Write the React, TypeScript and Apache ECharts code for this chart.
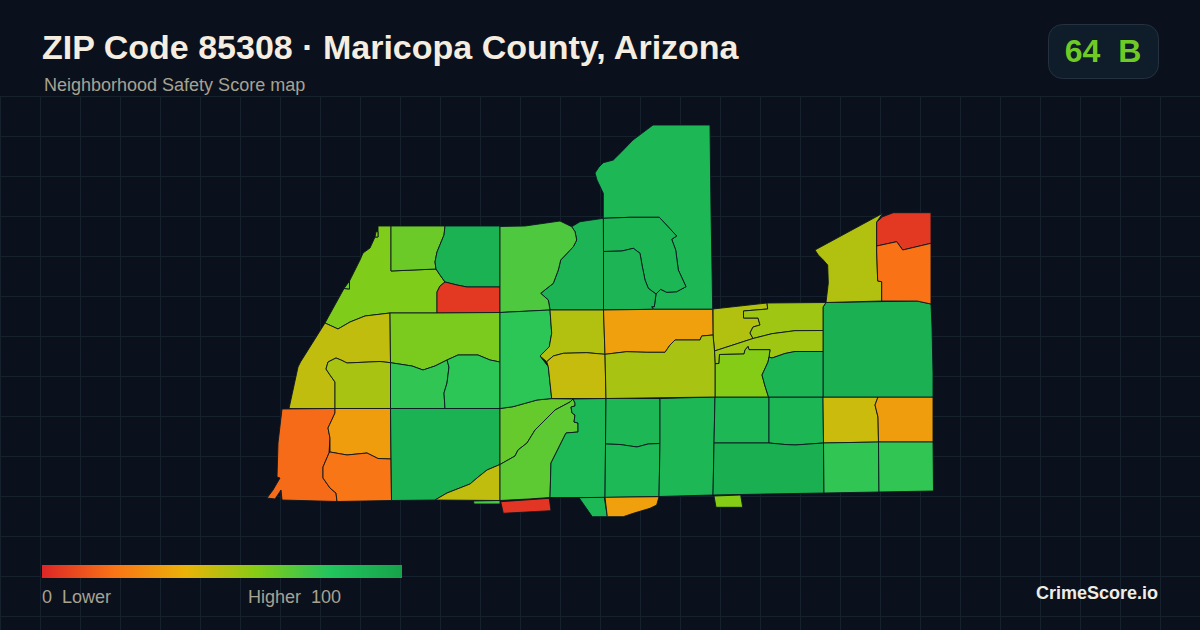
import React, { useEffect, useRef } from "react";
import * as echarts from "echarts";

const titleText = "ZIP Code 85308 · Maricopa County, Arizona";
const subtitleText = "Neighborhood Safety Score map";
const overallScore = "64  B";
const legendLow = "0  Lower";
const legendHigh = "Higher  100";
const brandText = "CrimeScore.io";

const scaleColors = ["#dc2626", "#f97316", "#eab308", "#84cc16", "#22c55e", "#16a34a"];

// Neighborhood scores; same order as regionRings.
const regionScores = [
  61, 65, 91, 5, 48, 53, 62, 77, 78, 18, 33, 21, 91, 48, 72,
  66, 68, 87, 88, 87, 88, 88, 89, 93, 46, 33, 77, 77, 92,
  51, 55, 55, 60, 89, 51, 5, 20, 88, 89, 90, 90, 71, 78, 51, 47, 34, 53,
  4, 87, 34, 60, 65, 61,
];

// Neighborhood outlines in local map units (east, south).
const regionRings: number[][][] = [
  [[378,226],[391,226],[391,271],[436,269],[440,275],[445,282],[440,286],[437,292],[437,313],[390,313],[365,316],[350,322],[338,329],[325,323],[344,288.5],[349.5,289],[349.5,281],[360,260],[363,253],[370,248],[375,237],[378,237]],
  [[391,226],[445,226],[444,235],[437,252],[435,262],[436,269],[391,271]],
  [[445,226],[500,226],[500,287],[467,287],[457,285],[445,282],[440,275],[436,269],[435,262],[437,252],[444,235]],
  [[445,282],[457,285],[467,287],[500,287],[500,312.5],[437,313],[437,292],[440,286]],
  [[325,323],[338,329],[350,322],[365,316],[390,313],[390.5,362.7],[380,361.5],[347,363],[341,360],[336,358],[328,362],[326,369],[330,375],[335,382],[335,408.5],[289,408.5],[298,367],[300.5,362]],
  [[335,408.5],[390.5,408.5],[390.5,362.7],[380,361.5],[347,363],[341,360],[336,358],[328,362],[326,369],[330,375],[335,382]],
  [[390,313],[437,313],[500,312.5],[500,362],[490,360],[478,355],[458,355],[447,360],[435,366],[423,370],[412,366],[390.5,362.7]],
  [[390.5,362.7],[412,366],[423,370],[435,366],[447,360],[449,367],[447,383],[444,393],[445,408.5],[390.5,408.5]],
  [[447,360],[458,355],[478,355],[490,360],[500,362],[500,408.5],[445,408.5],[444,393],[447,383],[449,367]],
  [[282,409],[335,408.5],[335,413],[328,428],[330,438],[329,453],[323,467],[323,478],[330,488],[336,493],[337,501.5],[282,500],[281,490],[275,499],[267,498],[273,490],[280,478],[277,477],[278,443]],
  [[335,408.5],[390.5,408.5],[391,459],[378,458.5],[367,453],[347,455],[330,452],[330,438],[328,428],[335,413]],
  [[330,452],[347,455],[367,453],[378,458.5],[391,459],[391.5,500.5],[337,501.5],[336,493],[330,488],[323,478],[323,467],[329,453]],
  [[390.5,408.5],[500,408.5],[500,464.5],[487,470],[477,478],[470,484],[447,493],[435,500],[391.5,500.5]],
  [[435,500],[447,493],[470,484],[477,478],[487,470],[500,464.5],[500,500.5]],
  [[473.5,501],[500,500.5],[500,504],[474,504]],
  [[500,408.5],[513,406.7],[537,400],[550,398.7],[573,399],[570,402],[555,410],[545,420],[535,430],[527,443],[518,450],[515,456],[500,464.5]],
  [[500,464.5],[515,456],[518,450],[527,443],[535,430],[545,420],[555,410],[570,402],[573,399],[575,403],[575,406],[571,407],[572,413],[575,415],[574,422],[578,423],[578,432],[566,433],[551,463],[550,497.5],[529,499],[500,500.5]],
  [[573,399],[606,398.5],[605,497.5],[579,497.5],[550,497.5],[551,463],[566,433],[578,432],[578,423],[574,422],[575,415],[572,413],[571,407],[575,406],[575,403]],
  [[606,398.5],[660,398.5],[660,443.5],[648,444],[637,447],[620,444.5],[605.5,444]],
  [[605.5,444],[620,444.5],[637,447],[648,444],[660,443.5],[659,496.5],[605,497.5]],
  [[660,398.5],[715,397],[714,443],[713,495],[659,496.5],[660,443.5]],
  [[715,397],[769,397],[769,443],[714,443]],
  [[769,397],[823,397],[823.5,443],[795,445],[785,444.5],[769,443]],
  [[714,443],[769,443],[785,444.5],[795,445],[823.5,443],[824,493],[713,495]],
  [[823,397],[878,397],[875,405],[878,417],[878.5,442],[823.5,443]],
  [[878,397],[933,397],[933,442],[878.5,442],[878,417],[875,405]],
  [[823.5,443],[878.5,442],[879,492],[824,493]],
  [[878.5,442],[933,442],[933.5,491],[879,492]],
  [[826,302.5],[917,301],[931,304],[932,327],[933,373],[933,397],[878,397],[823,397],[823,307]],
  [[713,309],[767,303],[767.7,309],[743.5,311],[743.5,318],[758,318],[760,325],[753,327],[750,333],[753,338.5],[714.5,351],[713,335]],
  [[767,303],[826,302.5],[823,307],[823,330.5],[795,330.7],[772,333.7],[753,338.5],[750,333],[753,327],[760,325],[758,318],[743.5,318],[743.5,311],[767.7,309]],
  [[714.5,351],[753,338.5],[772,333.7],[795,330.7],[823,330.5],[823,351.5],[795,351.5],[785,353.5],[772,358],[769,357],[770,349.7],[749,349.7],[748,346.5],[745,350],[744,354],[719.5,354.5],[719,363.5],[715,363.7]],
  [[715,363.7],[719,363.5],[719.5,354.5],[744,354],[745,350],[748,346.5],[749,349.7],[770,349.7],[769,357],[768,362],[762,375],[765,386],[768.5,397],[715,397]],
  [[769,357],[772,358],[785,353.5],[795,351.5],[823,351.5],[823,397],[768.5,397],[765,386],[762,375],[768,362]],
  [[815,250],[882.7,213.3],[876.7,222],[876.7,246],[876.7,252],[877.7,281],[881.7,281.7],[881.7,301],[826,302.5],[828.3,283],[827.7,265],[823.3,260],[818.3,255]],
  [[882.7,216.7],[893.3,212.7],[931,212.7],[931,243.3],[902.7,250],[896.7,241.7],[876.7,246],[876.7,222]],
  [[876.7,246],[896.7,241.7],[902.7,250],[931,243.3],[931,304],[917,301],[881.7,301],[881.7,281.7],[877.7,281],[876.7,252]],
  [[653,125],[710,125],[711,210],[712.7,309.3],[653.3,309.3],[651.7,306.7],[654.3,306.7],[656,294],[660.7,289.3],[666.7,292.3],[676.7,291.7],[686,286.7],[678.3,270],[675.7,250],[671.7,239.3],[676.7,236],[659.3,217.3],[630,217.3],[603.3,218.3],[603.3,193.3],[597,180],[595,173],[599,167],[603.3,162.7],[613.3,160],[621.7,151.7],[633,140]],
  [[603.3,218.3],[630,217.3],[659.3,217.3],[676.7,236],[671.7,239.3],[675.7,250],[678.3,270],[686,286.7],[676.7,291.7],[666.7,292.3],[660.7,289.3],[656,294],[648.3,288.3],[645,280],[642,265],[640,253.3],[633.3,248.3],[622,251],[603.5,251.5]],
  [[603.5,251.5],[622,251],[633.3,248.3],[640,253.3],[642,265],[645,280],[648.3,288.3],[656,294],[654.3,306.7],[651.7,306.7],[653.3,309.3],[603.5,310]],
  [[571.7,226.7],[580,221.7],[603.3,218.3],[603.5,251.5],[603.5,310],[550,310],[548.3,300],[540.7,293.3],[553.3,283.3],[558.3,270],[560.7,260],[573.3,246.7],[576.7,240],[575,231.7]],
  [[500,226.5],[525,226],[560,221],[571.7,226.7],[575,231.7],[576.7,240],[573.3,246.7],[560.7,260],[558.3,270],[553.3,283.3],[540.7,293.3],[548.3,300],[550,310],[500,312.5]],
  [[500,312.5],[550,310],[551.7,333.3],[549.3,346.7],[540,356],[548.3,366.7],[551.7,398.5],[537,400],[513,406.7],[500,408.5]],
  [[550,310],[603.5,310],[605,354.3],[586.7,352.7],[563.3,353.3],[553.3,356],[546.7,361.7],[540,356],[549.3,346.7],[551.7,333.3]],
  [[546.7,361.7],[553.3,356],[563.3,353.3],[586.7,352.7],[605,354.3],[606,398.5],[551.7,398.5],[548.3,366.7]],
  [[603.5,310],[653.3,309.3],[712.7,309.3],[713,335],[701.7,336],[700,340],[675,340],[670,345],[665,352.3],[646.7,352.3],[626.7,351.7],[605,354.3]],
  [[605,354.3],[626.7,351.7],[646.7,352.3],[665,352.3],[670,345],[675,340],[700,340],[701.7,336],[713,335],[714.5,351],[715,363.7],[715,397],[606,398.5]],
  [[500.7,501.7],[549.3,498.3],[551,510.7],[503.3,513.3]],
  [[579,497.7],[604.3,497.3],[607.3,516.7],[592.3,516.7]],
  [[605,497.3],[659,496.7],[656.7,505],[650,508.3],[633.3,513.3],[623.3,516.7],[607.3,516.7]],
  [[714,496],[740.7,495],[742.7,507.3],[716,507.3]],
  [[349.5,281],[349.5,289],[344,288.5]],
  [[378,231.7],[378,237],[375,237],[376,231.7]],
];

const regionName = (i: number) => `Neighborhood ${i + 1}`;

function buildGeoJson() {
  return {
    type: "FeatureCollection",
    features: regionRings.map((ring, i) => ({
      type: "Feature",
      properties: { name: regionName(i) },
      geometry: {
        type: "Polygon",
        coordinates: [[...ring, ring[0]].map(([e, s]) => [e, -s])],
      },
    })),
  };
}

function gridLines() {
  const stroke = { stroke: "#15222e", lineWidth: 1 };
  const out: any[] = [];
  for (let x = 0.5; x <= 1200; x += 40) {
    out.push({ type: "line", z: 0, silent: true, shape: { x1: x, y1: 96, x2: x, y2: 630 }, style: stroke });
  }
  for (let y = 96.5; y <= 630; y += 40) {
    out.push({ type: "line", z: 0, silent: true, shape: { x1: 0, y1: y, x2: 1200, y2: y }, style: stroke });
  }
  return out;
}

export default function App() {
  const ref = useRef<HTMLDivElement>(null);
  useEffect(() => {
    document.body.style.margin = "0";
    document.body.style.background = "#0a111c";
    echarts.registerMap("zip85308", buildGeoJson() as any);
    const chart = echarts.init(ref.current!, undefined, { renderer: "svg" });
    const allPoints = regionRings.flat();
    const es = allPoints.map((p) => p[0]);
    const ss = allPoints.map((p) => p[1]);
    const minE = Math.min(...es);
    const maxE = Math.max(...es);
    const minS = Math.min(...ss);
    const maxS = Math.max(...ss);
    const font = '"Liberation Sans", Arial, sans-serif';
    const legendFill = new echarts.graphic.LinearGradient(
      0, 0, 1, 0,
      scaleColors.map((color, i) => ({ offset: i / (scaleColors.length - 1), color })),
    );
    chart.setOption({
      animation: false,
      backgroundColor: "#0a111c",
      tooltip: { show: false },
      visualMap: {
        type: "continuous",
        show: false,
        min: 0,
        max: 100,
        seriesIndex: 0,
        inRange: { color: scaleColors },
      },
      series: [
        {
          type: "map",
          map: "zip85308",
          silent: true,
          selectedMode: false,
          showLegendSymbol: false,
          aspectScale: 1,
          left: minE,
          top: minS,
          width: maxE - minE,
          height: maxS - minS,
          label: { show: false },
          emphasis: { disabled: true },
          itemStyle: { borderColor: "#0b1620", borderWidth: 0.9 },
          data: regionScores.map((value, i) => ({ name: regionName(i), value })),
        },
      ],
      graphic: [
        ...gridLines(),
        { type: "text", z: 10, x: 42, y: 47, silent: true, style: { text: titleText, fill: "#f5ede0", font: `bold 34px ${font}`, verticalAlign: "middle" } },
        { type: "text", z: 10, x: 44, y: 85, silent: true, style: { text: subtitleText, fill: "#a8a292", font: `18px ${font}`, verticalAlign: "middle" } },
        { type: "rect", z: 10, silent: true, shape: { x: 1048.5, y: 24.5, width: 110, height: 54, r: 14 }, style: { fill: "#0f1c2a", stroke: "#243140", lineWidth: 1 } },
        { type: "text", z: 11, x: 1103, y: 51, silent: true, style: { text: overallScore, fill: "#6fca26", font: `bold 32px ${font}`, textAlign: "center", verticalAlign: "middle" } },
        { type: "rect", z: 10, silent: true, shape: { x: 42, y: 565, width: 360, height: 13 }, style: { fill: legendFill } },
        { type: "text", z: 10, x: 42, y: 597, silent: true, style: { text: legendLow, fill: "#a8a292", font: `18px ${font}`, verticalAlign: "middle" } },
        { type: "text", z: 10, x: 341, y: 597, silent: true, style: { text: legendHigh, fill: "#a8a292", font: `18px ${font}`, textAlign: "right", verticalAlign: "middle" } },
        { type: "text", z: 10, x: 1158, y: 593, silent: true, style: { text: brandText, fill: "#f0ece4", font: `bold 18px ${font}`, textAlign: "right", verticalAlign: "middle" } },
      ],
    });
    return () => chart.dispose();
  }, []);
  return <div ref={ref} style={{ width: 1200, height: 630 }} />;
}
